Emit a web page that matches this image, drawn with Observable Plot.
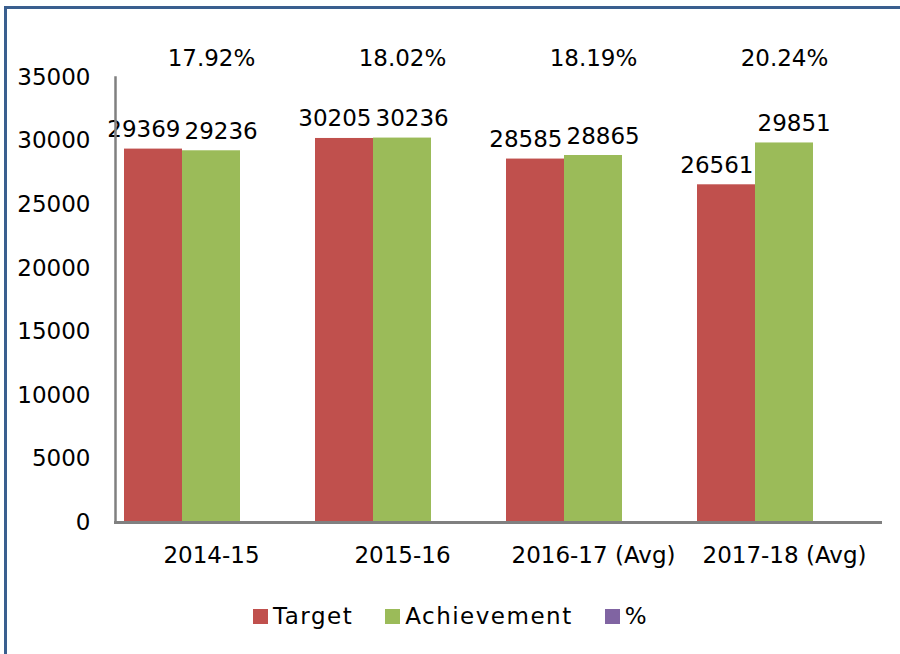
<!DOCTYPE html>
<html>
<head>
<meta charset="utf-8">
<script src="https://cdn.jsdelivr.net/npm/d3@7"></script>
<script src="https://cdn.jsdelivr.net/npm/@observablehq/plot@0.6"></script>
<style>
  html, body { margin: 0; padding: 0; background: #fff; }
  #wrap { position: relative; width: 900px; height: 654px; overflow: hidden; font-family: "DejaVu Sans", sans-serif; }
  #border { position: absolute; left: 4px; top: 6px; width: 920px; height: 700px; border-top: 3px solid #3A5F8F; border-left: 3px solid #3A5F8F; box-sizing: border-box; }
  #chart { position: absolute; left: 0; top: 0; }
  #legend { position: absolute; left: 253px; top: 603px; display: flex; align-items: center; font-size: 23px; color: #000; letter-spacing: 1.5px; }
  #legend .item { display: flex; align-items: center; margin-right: 32px; }
  #legend .sw { width: 15px; height: 15px; margin-right: 5px; }
</style>
</head>
<body>
<div id="wrap">
  <div id="border"></div>
  <div id="chart"></div>
  <div id="legend"></div>
</div>
<script>
const categories = ["2014-15", "2015-16", "2016-17 (Avg)", "2017-18 (Avg)"];
const series = ["Target", "Achievement", "%"];
const seriesColors = ["#C0504D", "#9BBB59", "#8064A2"];
const target = [29369, 30205, 28585, 26561];
const achievement = [29236, 30236, 28865, 29851];
const percent = [17.92, 18.02, 18.19, 20.24];
const yTicks = [0, 5000, 10000, 15000, 20000, 25000, 30000, 35000];

const targetRows = categories.map((c, i) => ({category: c, series: "Target", value: target[i]}));
const achievementRows = categories.map((c, i) => ({category: c, series: "Achievement", value: achievement[i]}));
const rows = targetRows.concat(achievementRows);
const pct = categories.map((c, i) => ({category: c, label: percent[i].toFixed(2) + "%"}));

const chart = Plot.plot({
  width: 900,
  height: 590,
  marginTop: 77,
  marginBottom: 68,
  marginLeft: 114,
  marginRight: 20,
  style: {fontFamily: "DejaVu Sans, sans-serif", fontSize: "23px", color: "#000", background: "transparent", overflow: "visible"},
  fx: {domain: categories, paddingInner: 0.0914, paddingOuter: 0.0457, label: null, tickSize: 0, tickPadding: 24, axis: "bottom"},
  x: {domain: series, axis: null, paddingInner: 0, paddingOuter: 0},
  y: {domain: [0, 35000], ticks: yTicks, tickSize: 0, tickPadding: 34, label: null, tickFormat: d => String(d)},
  color: {domain: series, range: seriesColors},
  marks: [
    Plot.barY(rows, {fx: "category", x: "series", y: "value", fill: "series"}),
    Plot.text(targetRows, {fx: "category", x: "series", y: "value", text: d => String(d.value), lineAnchor: "bottom", textAnchor: "end", dx: 27, dy: -12, fill: "#000"}),
    Plot.text(achievementRows, {fx: "category", x: "series", y: "value", text: d => String(d.value), lineAnchor: "bottom", textAnchor: "start", dx: -27, dy: -12, fill: "#000"}),
    Plot.text(pct, {fx: "category", text: "label", frameAnchor: "top", lineAnchor: "bottom", dy: -12, fill: "#000"}),
    Plot.frame({anchor: "left", facet: "super", stroke: "#808080", strokeWidth: 2.5, insetLeft: -9}),
    Plot.frame({anchor: "bottom", facet: "super", stroke: "#808080", strokeWidth: 3, insetLeft: -9, insetRight: -9})
  ]
});
document.getElementById("chart").appendChild(chart);

const legend = document.getElementById("legend");
series.forEach((s, i) => {
  const item = document.createElement("div");
  item.className = "item";
  const sw = document.createElement("div");
  sw.className = "sw";
  sw.style.background = seriesColors[i];
  const lab = document.createElement("span");
  lab.textContent = s;
  item.appendChild(sw);
  item.appendChild(lab);
  legend.appendChild(item);
});
</script>
</body>
</html>
